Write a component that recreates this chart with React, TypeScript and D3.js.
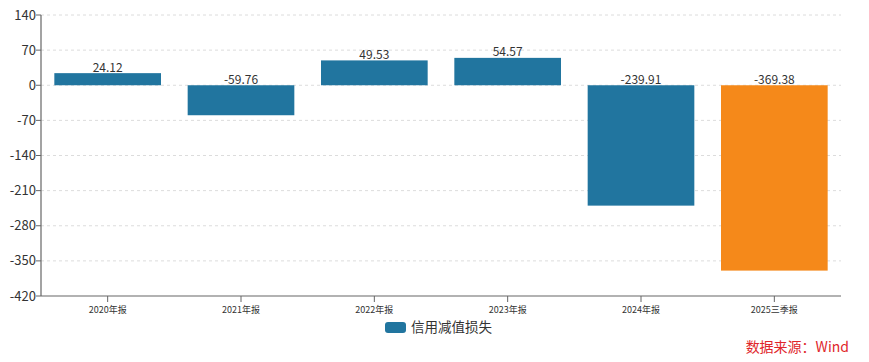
import React from "react";
import * as d3 from "d3";

const categories = ["2020年报", "2021年报", "2022年报", "2023年报", "2024年报", "2025三季报"];
const values = [24.12, -59.76, 49.53, 54.57, -239.91, -369.38];
const barColors = ["#21759f", "#21759f", "#21759f", "#21759f", "#21759f", "#f5891a"];
const yTicks = [140, 70, 0, -70, -140, -210, -280, -350, -420];
const seriesName = "信用减值损失";
const sourceText = "数据来源：Wind";

const W = 869;
const H = 362;
const margin = { left: 41, right: 28, top: 15, bottom: 66 };
const FONT = "'Noto Sans CJK SC', 'Noto Sans', sans-serif";

export default function App() {
  const x = d3
    .scaleBand<string>()
    .domain(categories)
    .range([margin.left, W - margin.right])
    .paddingInner(0.2)
    .paddingOuter(0.1);
  const y = d3.scaleLinear().domain([-420, 140]).range([H - margin.bottom, margin.top]);
  const x0 = margin.left;
  const x1 = W - margin.right;
  const yBottom = y(-420);
  const band = (x1 - x0) / categories.length;

  return (
    <svg
      width={W}
      height={H}
      style={{ position: "absolute", left: 0, top: 0, background: "#fff" }}
      fontFamily={FONT}
    >
      {yTicks.map((t) => (
        <g key={t}>
          {t !== -420 && (
            <line x1={x0} x2={x1} y1={y(t)} y2={y(t)} stroke="#dcdcdc" strokeDasharray="3,3" strokeWidth={1} />
          )}
          <line x1={x0 - 5} x2={x0} y1={y(t)} y2={y(t)} stroke="#666" />
          <text x={x0 - 5} y={y(t)} dy="0.35em" textAnchor="end" fontSize={13} fill="#333">
            {t}
          </text>
        </g>
      ))}
      {categories.map((c, i) => {
        const v = values[i];
        const top = y(Math.max(0, v));
        const bot = y(Math.min(0, v));
        const bx = x(c)!;
        return (
          <g key={c}>
            <rect x={bx} y={top} width={x.bandwidth()} height={bot - top} fill={barColors[i]} />
            <text
              x={bx + x.bandwidth() / 2}
              y={top - 1.5}
              textAnchor="middle"
              fontSize={12}
              fill="#333"
            >
              {v.toFixed(2)}
            </text>
          </g>
        );
      })}
      <line x1={x0} x2={x0} y1={y(140)} y2={yBottom} stroke="#666" strokeWidth={1.2} />
      <line x1={x0} x2={x1} y1={yBottom} y2={yBottom} stroke="#666" strokeWidth={1.2} />
      {categories.map((c, i) => {
        const cx = x0 + band * (i + 0.5);
        return (
          <g key={"t" + c}>
            <line x1={cx} x2={cx} y1={yBottom} y2={yBottom + 6} stroke="#666" />
            <text x={cx} y={yBottom + 17} textAnchor="middle" fontSize={9} fill="#333">
              {c}
            </text>
          </g>
        );
      })}
      <rect x={385} y={322} width={21} height={11} rx={3} fill="#21759f" />
      <text x={411} y={332} fontSize={13.5} fill="#333">
        {seriesName}
      </text>
      <text x={849} y={352} textAnchor="end" fontSize={14} fill="#e0262b">
        {sourceText}
      </text>
    </svg>
  );
}
